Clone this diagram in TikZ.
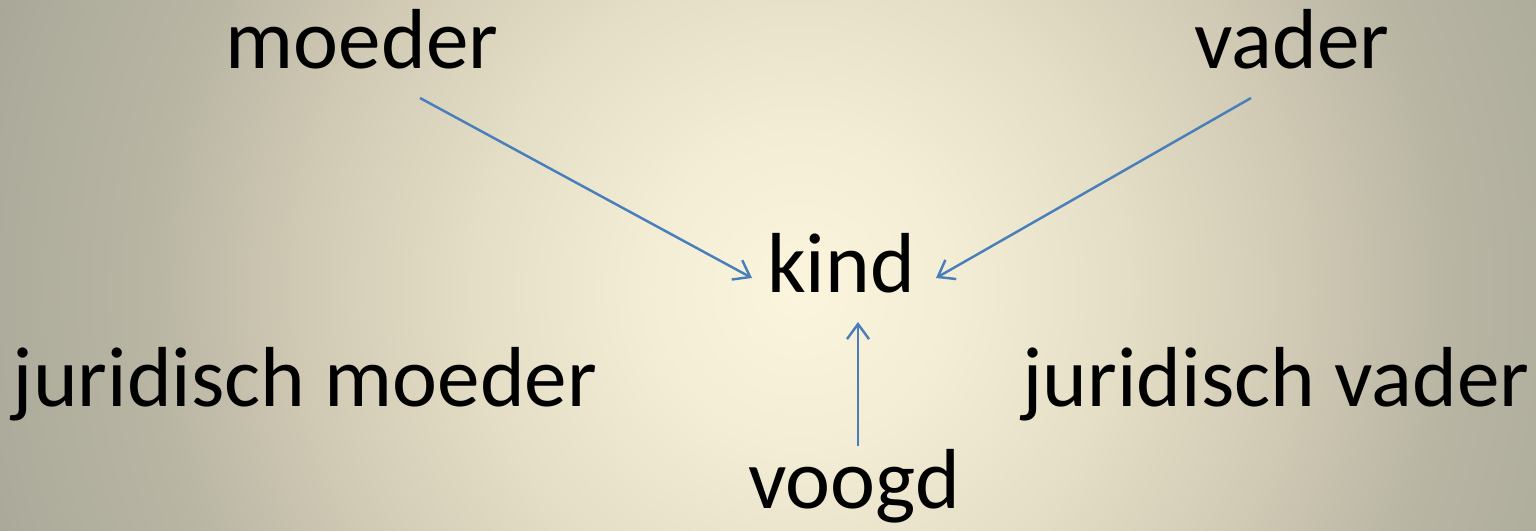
\documentclass[tikz,border=0pt]{standalone}
\usepackage{fontspec}
\setmainfont{Carlito}
\usetikzlibrary{arrows.meta}
\definecolor{arrblue}{HTML}{4A7EBB}
\definecolor{bgA}{HTML}{FBF5DE}
\definecolor{bgB}{HTML}{F3EDD6}
\definecolor{bgC}{HTML}{E4DEC6}
\definecolor{bgD}{HTML}{D0C9B4}
\definecolor{bgE}{HTML}{B8B5A3}
\definecolor{bgF}{HTML}{ADAB9B}
\definecolor{bgG}{HTML}{A8A696}
\pgfdeclareradialshading{bgglow}{\pgfpoint{0bp}{0bp}}{color(0bp)=(bgA); color(4.5bp)=(bgB); color(9.5bp)=(bgC); color(14.5bp)=(bgD); color(19bp)=(bgE); color(23.5bp)=(bgF); color(25bp)=(bgG); color(50bp)=(bgG)}
\begin{document}
\begin{tikzpicture}[x=0.02cm,y=-0.02cm,
    lbl/.style={anchor=base,inner sep=0pt,font=\fontsize{48.5}{52}\selectfont},
    arr/.style={draw=arrblue,line width=1.4pt,-{Straight Barb[length=0.3cm,width=0.44cm]}}]
    \useasboundingbox (0,0) rectangle (1536,531);
    \begin{scope}
    \clip (0,0) rectangle (1536,531);
    \shade[shading=bgglow] (800,290) circle[radius=860];
    \end{scope}
    \node[lbl] (moeder) at (362,68) {moeder};
    \node[lbl] (vader) at (1292,68) {vader};
    \node[lbl] (kind) at (841,292) {kind};
    \node[lbl] (jmoeder) at (305,406) {juridisch moeder};
    \node[lbl] (jvader) at (1276,406) {juridisch vader};
    \node[lbl] (voogd) at (854,508) {voogd};
    \draw[arr] ([shift={(58,30)}]moeder.base) -- ([shift={(-89,-14)}]kind.base);
    \draw[arr] ([shift={(-41,30)}]vader.base) -- ([shift={(95,-14)}]kind.base);
    \draw[arr] ([shift={(4,-62)}]voogd.base) -- ([shift={(17,30)}]kind.base);
\end{tikzpicture}
\end{document}
